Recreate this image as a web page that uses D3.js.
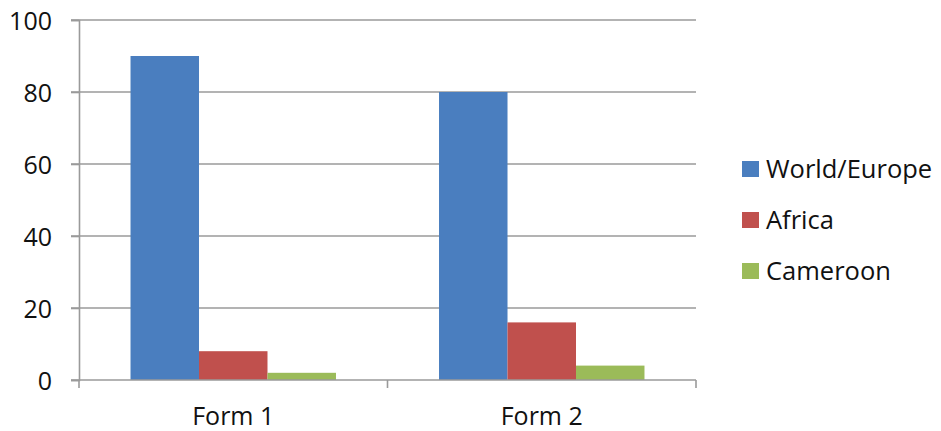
<!DOCTYPE html>
<html>
<head>
<meta charset="utf-8">
<script src="https://cdn.jsdelivr.net/npm/d3@7"></script>
<style>
  html, body { margin: 0; padding: 0; background: #fff; }
  svg text { font-family: "Open Sans", "Liberation Sans", sans-serif; fill: #111; }
</style>
</head>
<body>
<svg id="chart" width="941" height="431"></svg>
<script>
// Chart data
const categories = ["Form 1", "Form 2"];
const seriesNames = ["World/Europe", "Africa", "Cameroon"];
const worldEurope = [90, 80];
const africa = [8, 16];
const cameroon = [2, 4];
const yTicks = [0, 20, 40, 60, 80, 100];

const seriesValues = [worldEurope, africa, cameroon];
const colors = ["#4a7ebf", "#c0504d", "#9bbb59"];

const svg = d3.select("#chart");
const margin = { left: 79, right: 245, top: 20, bottom: 51 };
const W = 941, H = 431;
const plotW = W - margin.left - margin.right;
const plotH = H - margin.top - margin.bottom;

const g = svg.append("g").attr("transform", `translate(${margin.left},${margin.top})`);

const x = d3.scaleBand().domain(categories).range([0, plotW]).padding(0);
const groupPad = 0.167;
const xs = d3.scaleBand().domain(seriesNames)
  .range([x.bandwidth() * groupPad, x.bandwidth() * (1 - groupPad)]).padding(0);
const y = d3.scaleLinear().domain([0, 100]).range([plotH, 0]);

const axisColor = "#9a9a9a";

// Horizontal gridlines with short left ticks
g.append("g").selectAll("line").data(yTicks.filter(d => d > 0)).join("line")
  .attr("x1", -8).attr("x2", plotW)
  .attr("y1", d => y(d)).attr("y2", d => y(d))
  .attr("stroke", axisColor).attr("stroke-width", 1.6);

// Bars
const rows = categories.map((c, i) => ({ cat: c, vals: seriesNames.map((s, j) => ({ s, v: seriesValues[j][i], j })) }));
g.append("g").selectAll("g").data(rows).join("g")
  .attr("transform", d => `translate(${x(d.cat)},0)`)
  .selectAll("rect").data(d => d.vals).join("rect")
  .attr("x", d => xs(d.s))
  .attr("width", xs.bandwidth())
  .attr("y", d => y(d.v))
  .attr("height", d => y(0) - y(d.v))
  .attr("fill", d => colors[d.j]);

// Y axis
const yAxis = d3.axisLeft(y).tickValues(yTicks).tickSize(8).tickPadding(19);
const ya = g.append("g").call(yAxis);
ya.select(".domain").attr("stroke", axisColor).attr("stroke-width", 1.6);
ya.selectAll(".tick line").attr("stroke", axisColor).attr("stroke-width", 1.6);
ya.selectAll(".tick text").attr("font-size", 25).attr("font-family", null).attr("dy", "0.36em");

// X axis with boundary ticks between categories
const xa = g.append("g").attr("transform", `translate(0,${plotH})`);
xa.append("line").attr("x1", -8).attr("x2", plotW).attr("y1", 0).attr("y2", 0)
  .attr("stroke", axisColor).attr("stroke-width", 1.6);
const bounds = categories.map(c => x(c)).concat([plotW]);
xa.selectAll("line.b").data(bounds).join("line").attr("class", "b")
  .attr("x1", d => d).attr("x2", d => d).attr("y1", 0).attr("y2", 8)
  .attr("stroke", axisColor).attr("stroke-width", 1.6);
xa.selectAll("text").data(categories).join("text")
  .attr("x", d => x(d) + x.bandwidth() / 2)
  .attr("y", 45)
  .attr("text-anchor", "middle")
  .attr("font-size", 25)
  .text(d => d);

// Legend
const legend = svg.append("g").attr("transform", "translate(742,161)");
const items = legend.selectAll("g").data(seriesNames).join("g")
  .attr("transform", (d, i) => `translate(0,${i * 51})`);
items.append("rect").attr("width", 17).attr("height", 16).attr("fill", (d, i) => colors[i]);
items.append("text").attr("x", 24).attr("y", 16.5).attr("font-size", 25.5).text(d => d);
</script>
</body>
</html>
